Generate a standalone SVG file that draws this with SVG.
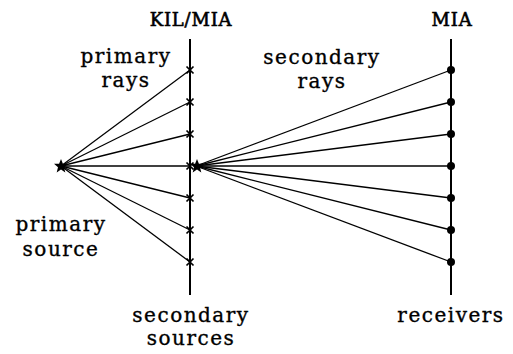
<svg xmlns="http://www.w3.org/2000/svg" width="513" height="354" viewBox="0 0 513 354">
<style>
.t{font-family:"DejaVu Serif","Liberation Serif",serif;font-size:20px;letter-spacing:1.5px;text-anchor:middle;fill:#000;stroke:#000;stroke-width:0.35}
.h{font-family:"DejaVu Serif","Liberation Serif",serif;font-size:18px;letter-spacing:0.8px;text-anchor:middle;fill:#000;stroke:#000;stroke-width:0.6}
.ray{stroke:#000;stroke-width:1.3;fill:none}
.ax{stroke:#000;stroke-width:2;fill:none}
.x{stroke:#000;stroke-width:1.7;fill:none}
</style>
<defs>
<path id="cross" d="M-3.5,-3.5L3.5,3.5M-3.5,3.5L3.5,-3.5" class="x"/>
<polygon id="star" points="0,-7 1.9,-2.3 7,-2.2 3,1.2 4.3,6.4 0,3.5 -4.3,6.4 -3,1.2 -7,-2.2 -1.9,-2.3" fill="#000"/>
</defs>
<g id="connectors">
<g id="primary-rays">
<line class="ray" x1="61" y1="166" x2="190" y2="70"/>
<line class="ray" x1="61" y1="166" x2="190" y2="102"/>
<line class="ray" x1="61" y1="166" x2="190" y2="134"/>
<line class="ray" x1="61" y1="166" x2="190" y2="166"/>
<line class="ray" x1="61" y1="166" x2="190" y2="198"/>
<line class="ray" x1="61" y1="166" x2="190" y2="230"/>
<line class="ray" x1="61" y1="166" x2="190" y2="262"/>
</g>
<g id="secondary-rays">
<line class="ray" x1="196" y1="166" x2="451" y2="70"/>
<line class="ray" x1="196" y1="166" x2="451" y2="102"/>
<line class="ray" x1="196" y1="166" x2="451" y2="134"/>
<line class="ray" x1="196" y1="166" x2="451" y2="166"/>
<line class="ray" x1="196" y1="166" x2="451" y2="198"/>
<line class="ray" x1="196" y1="166" x2="451" y2="230"/>
<line class="ray" x1="196" y1="166" x2="451" y2="262"/>
</g>
</g>
<g id="kil-mia">
<line class="ax" x1="190" y1="39" x2="190" y2="295"/>
<use href="#cross" x="190" y="70"/>
<use href="#cross" x="190" y="102"/>
<use href="#cross" x="190" y="134"/>
<use href="#cross" x="190" y="166"/>
<use href="#cross" x="190" y="198"/>
<use href="#cross" x="190" y="230"/>
<use href="#cross" x="190" y="262"/>
<text class="h" x="191" y="26">KIL/MIA</text>
</g>
<g id="mia">
<line class="ax" x1="451" y1="39" x2="451" y2="295"/>
<circle cx="451" cy="70" r="4"/>
<circle cx="451" cy="102" r="4"/>
<circle cx="451" cy="134" r="4"/>
<circle cx="451" cy="166" r="4"/>
<circle cx="451" cy="198" r="4"/>
<circle cx="451" cy="230" r="4"/>
<circle cx="451" cy="262" r="4"/>
<text class="h" x="452" y="26">MIA</text>
</g>
<g id="primary-source">
<use href="#star" x="61" y="166"/>
<text class="t" x="61" y="231">primary</text>
<text class="t" x="61" y="256">source</text>
</g>
<g id="secondary-source">
<use href="#star" x="197" y="166"/>
</g>
<g id="labels">
<text class="t" x="126" y="63">primary</text>
<text class="t" x="126" y="87">rays</text>
<text class="t" x="322" y="64">secondary</text>
<text class="t" x="322" y="88">rays</text>
<text class="t" x="191" y="322">secondary</text>
<text class="t" x="191" y="345">sources</text>
<text class="t" x="451" y="322">receivers</text>
</g>
</svg>
